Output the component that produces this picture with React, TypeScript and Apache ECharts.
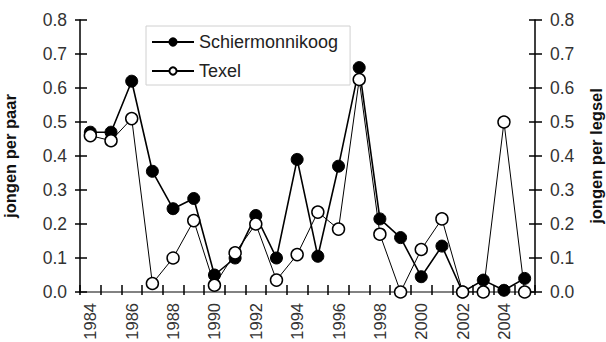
import React, { useEffect, useRef } from "react";
import * as echarts from "echarts";

const years = ["1984","1985","1986","1987","1988","1989","1990","1991","1992","1993","1994","1995","1996","1997","1998","1999","2000","2001","2002","2003","2004","2005"];
const schiermonnikoog = [0.47, 0.47, 0.62, 0.355, 0.245, 0.275, 0.05, 0.10, 0.225, 0.10, 0.39, 0.105, 0.37, 0.66, 0.215, 0.16, 0.045, 0.135, 0.0, 0.035, 0.005, 0.04];
const texel = [0.46, 0.445, 0.51, 0.025, 0.10, 0.21, 0.02, 0.115, 0.20, 0.035, 0.11, 0.235, 0.185, 0.625, 0.17, 0.0, 0.125, 0.215, 0.0, 0.0, 0.5, 0.0];
const yMin = 0;
const yMax = 0.8;
const yStep = 0.1;
const leftName = "jongen per paar";
const rightName = "jongen per legsel";

const FONT = '"Liberation Sans", Arial, sans-serif';

export default function App() {
  const ref = useRef<HTMLDivElement>(null);
  useEffect(() => {
    if (!ref.current) return;
    const chart = echarts.init(ref.current, undefined, { renderer: "svg" });
    const gridPos = { left: 80, right: 71, top: 20, bottom: 50, containLabel: false, outerBoundsMode: "none" };
    const valueAxisBase = {
      type: "value",
      min: yMin,
      max: yMax,
      interval: yStep,
      splitLine: { show: false },
    };
    chart.setOption({
      animation: false,
      backgroundColor: "#ffffff",
      textStyle: { fontFamily: FONT },
      grid: [
        { ...gridPos },
        { ...gridPos },
      ],
      legend: {
        left: 146,
        top: 26,
        orient: "vertical",
        borderColor: "#d0d0d0",
        borderWidth: 1,
        padding: [6, 12, 4, 5],
        itemWidth: 42,
        itemHeight: 9,
        itemGap: 9,
        textStyle: { fontSize: 18, color: "#222", fontFamily: FONT, lineHeight: 20 },
        data: ["Schiermonnikoog", "Texel"],
      },
      xAxis: [
        {
          type: "category",
          gridIndex: 0,
          position: "bottom",
          data: years,
          boundaryGap: true,
          axisLine: { lineStyle: { color: "#000", width: 1.5 } },
          axisTick: { show: true, interval: 0, length: 3, lineStyle: { color: "#000", width: 1.5 } },
          axisLabel: { interval: 1, rotate: 90, margin: 11, fontSize: 16.5, color: "#333", fontFamily: FONT },
        },
        {
          type: "category",
          gridIndex: 0,
          position: "top",
          data: years,
          axisLine: { lineStyle: { color: "#999", width: 1.5 } },
          axisTick: { show: false },
          axisLabel: { show: false },
        },
        {
          type: "category",
          gridIndex: 1,
          position: "bottom",
          data: years,
          axisLine: { show: false },
          axisTick: { show: true, inside: true, interval: 0, length: 7, lineStyle: { color: "#000", width: 1.5 } },
          axisLabel: { show: false },
        },
      ],
      yAxis: [
        {
          ...valueAxisBase,
          gridIndex: 0,
          position: "left",
          name: leftName,
          nameLocation: "middle",
          nameRotate: 90,
          nameGap: 62,
          nameTextStyle: { fontSize: 16.5, fontWeight: "bold", color: "#111", fontFamily: FONT },
          axisLine: { show: true, lineStyle: { color: "#000", width: 1.5 } },
          axisTick: { show: true, length: 5, lineStyle: { color: "#000", width: 1.5 } },
          axisLabel: { margin: 13, fontSize: 17.5, color: "#333", fontFamily: FONT, formatter: (v: number) => v.toFixed(1) },
        },
        {
          ...valueAxisBase,
          gridIndex: 0,
          position: "right",
          name: rightName,
          nameLocation: "middle",
          nameRotate: 90,
          nameGap: 52,
          nameTextStyle: { fontSize: 16.5, fontWeight: "bold", color: "#111", fontFamily: FONT },
          axisLine: { show: true, lineStyle: { color: "#000", width: 1.5 } },
          axisTick: { show: true, length: 7, lineStyle: { color: "#000", width: 1.5 } },
          axisLabel: { margin: 15, fontSize: 17.5, color: "#333", fontFamily: FONT, formatter: (v: number) => v.toFixed(1) },
        },
        {
          ...valueAxisBase,
          gridIndex: 1,
          position: "left",
          axisLine: { show: false },
          axisTick: { show: true, inside: true, length: 7, lineStyle: { color: "#000", width: 1.5 } },
          axisLabel: { show: false },
        },
        {
          ...valueAxisBase,
          gridIndex: 1,
          position: "right",
          axisLine: { show: false },
          axisTick: { show: true, inside: true, length: 6, lineStyle: { color: "#000", width: 1.5 } },
          axisLabel: { show: false },
        },
      ],
      series: [
        {
          name: "Schiermonnikoog",
          type: "line",
          xAxisIndex: 0,
          yAxisIndex: 0,
          data: schiermonnikoog,
          symbol: "circle",
          symbolSize: 12,
          lineStyle: { color: "#000", width: 1.6 },
          itemStyle: { color: "#000", borderColor: "#000", borderWidth: 1 },
        },
        {
          name: "Texel",
          type: "line",
          xAxisIndex: 0,
          yAxisIndex: 0,
          data: texel,
          symbol: "circle",
          symbolSize: 12,
          lineStyle: { color: "#000", width: 1 },
          itemStyle: { color: "#fff", borderColor: "#000", borderWidth: 1.5 },
        },
      ],
    });
    return () => chart.dispose();
  }, []);
  return (
    <div style={{ position: "fixed", left: 0, top: 0, width: 606, height: 342, background: "#fff" }}>
      <div ref={ref} style={{ width: 606, height: 342 }} />
    </div>
  );
}
